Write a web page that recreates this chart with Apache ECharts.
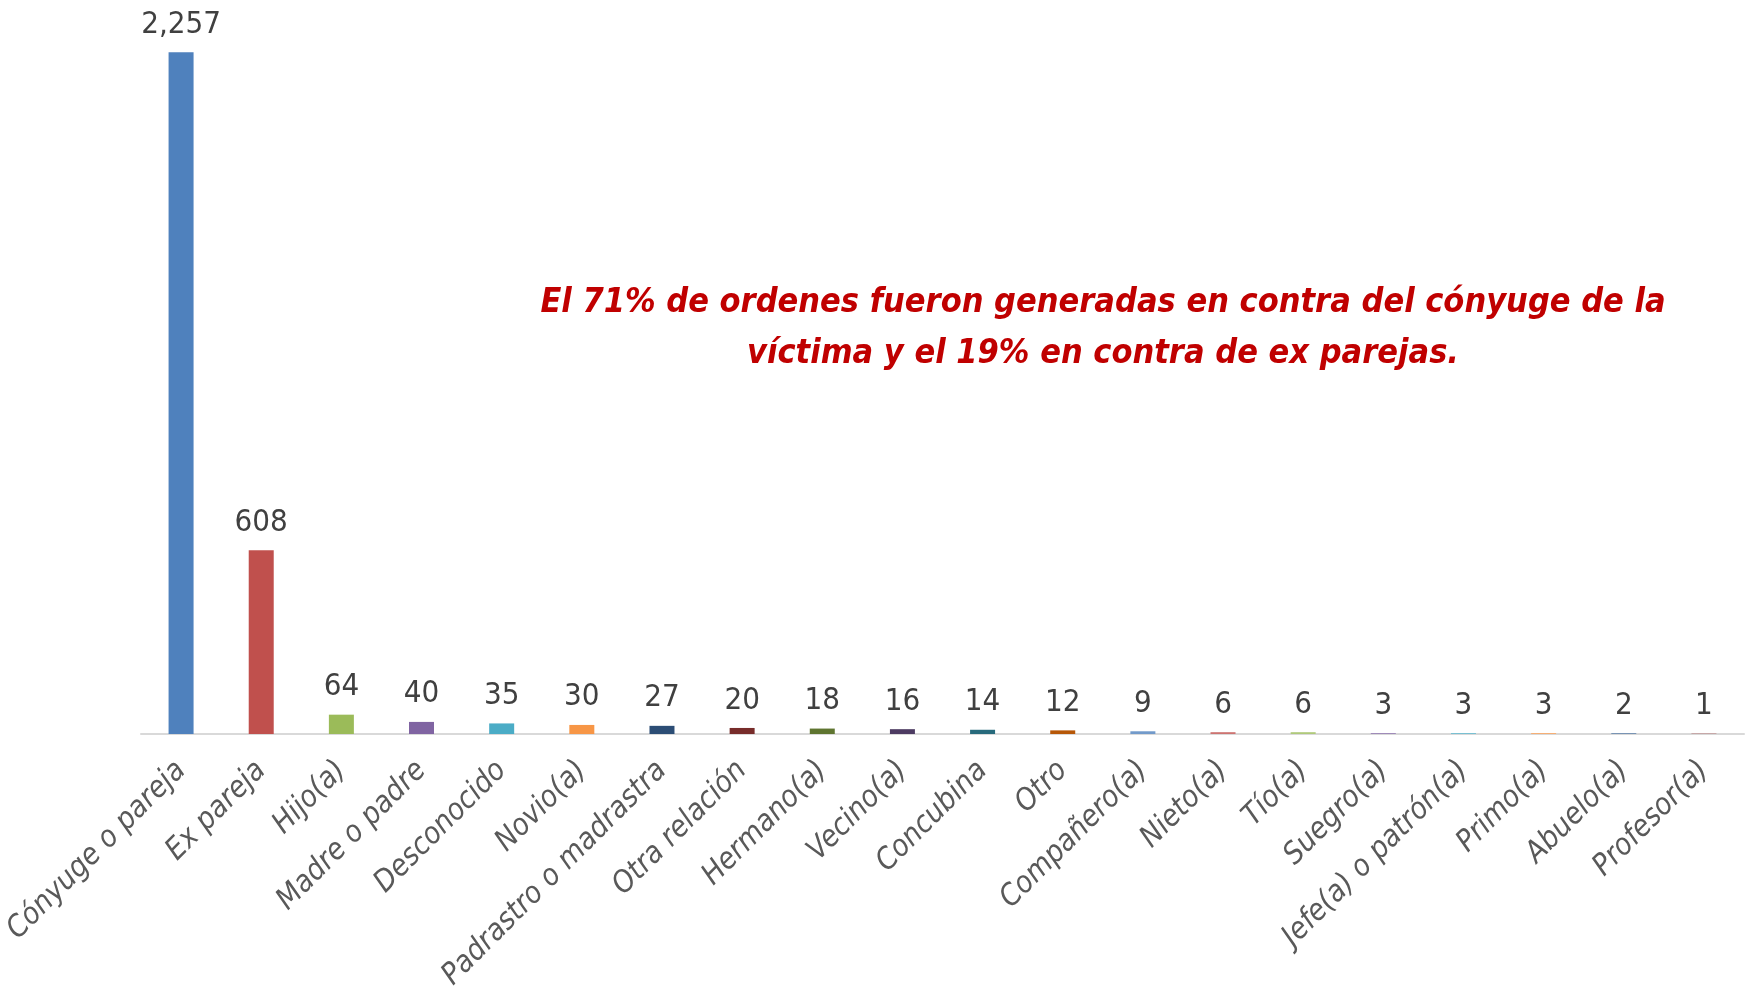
<!DOCTYPE html>
<html>
<head>
<meta charset="utf-8">
<script src="https://cdn.jsdelivr.net/npm/echarts@6/dist/echarts.min.js"></script>
<style>
  html, body { margin: 0; padding: 0; background: #fff; }
  #chart { width: 1746px; height: 989px; }
</style>
</head>
<body>
<div id="chart"></div>
<script>
var categories = ['Cónyuge o pareja', 'Ex pareja', 'Hijo(a)', 'Madre o padre', 'Desconocido',
    'Novio(a)', 'Padrastro o madrastra', 'Otra relación', 'Hermano(a)', 'Vecino(a)',
    'Concubina', 'Otro', 'Compañero(a)', 'Nieto(a)', 'Tío(a)',
    'Suegro(a)', 'Jefe(a) o patrón(a)', 'Primo(a)', 'Abuelo(a)', 'Profesor(a)'];
var values = [2257, 608, 64, 40, 35, 30, 27, 20, 18, 16, 14, 12, 9, 6, 6, 3, 3, 3, 2, 1];
var barColors = ['#4F81BD', '#C0504D', '#9BBB59', '#8064A2', '#4BACC6',
    '#F79646', '#2C4D75', '#772C2A', '#5F7530', '#4D3B62',
    '#276A7C', '#B65708', '#729ACA', '#CD7371', '#AFC97A',
    '#9983B5', '#6FBDD1', '#F9AB6B', '#3A679C', '#9E3B38'];
var note = ['El 71% de ordenes fueron generadas en contra del cónyuge de la',
    'víctima y el 19% en contra de ex parejas.'];

var font = "'Liberation Sans Narrow', 'DejaVu Sans Condensed', 'Liberation Sans', sans-serif";

var barData = values.map(function (v, i) {
    return { value: v, itemStyle: { color: barColors[i] } };
});

var option = {
    animation: false,
    grid: { left: 141, right: 2, top: 9, bottom: 255, outerBoundsMode: 'none' },
    xAxis: {
        type: 'category',
        data: categories,
        axisLine: { show: true, lineStyle: { color: '#D9D9D9', width: 2 } },
        axisTick: { show: false },
        axisLabel: {
            interval: 0,
            rotate: 45,
            margin: 32,
            color: '#595959',
            fontStyle: 'italic',
            fontSize: 30,
            fontFamily: font
        }
    },
    yAxis: {
        type: 'value',
        min: 0,
        max: 2400,
        show: false,
        splitLine: { show: false }
    },
    series: [{
        type: 'bar',
        data: barData,
        barWidth: 25,
        label: {
            show: true,
            position: 'top',
            distance: 12,
            color: '#404040',
            fontSize: 31,
            fontFamily: font,
            formatter: function (p) { return p.value.toLocaleString('en-US'); }
        }
    }],
    graphic: [{
        type: 'text',
        style: {
            x: 1103,
            y: 329,
            text: note.join('\n'),
            fill: '#C00000',
            font: 'italic bold 34px ' + font,
            lineHeight: 51,
            align: 'center',
            verticalAlign: 'middle'
        }
    }]
};

var myChart = echarts.init(document.getElementById('chart'));
myChart.setOption(option);
</script>
</body>
</html>
